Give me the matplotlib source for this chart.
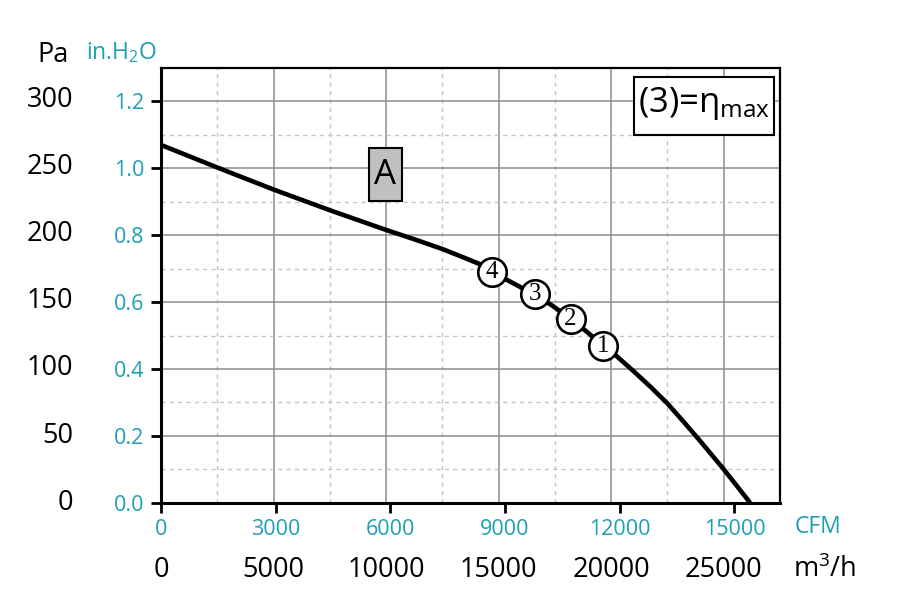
import matplotlib
matplotlib.use('Agg')
import matplotlib.pyplot as plt
from matplotlib.patches import Rectangle
import numpy as np

plt.rcParams['font.family'] = ['Open Sans', 'DejaVu Sans']
plt.rcParams['mathtext.fontset'] = 'custom'
plt.rcParams['mathtext.rm'] = 'Open Sans'
plt.rcParams['mathtext.it'] = 'Open Sans:italic'

# fan curve, flow in m3/h, static pressure in Pa
flow = [0, 2500, 5000, 7500, 10000, 11300, 12500, 13400, 14200, 14700, 15650,
        16600, 17400, 18200, 18950, 19650, 20180, 21000, 21730, 22480,
        23210, 23960, 24980, 26180]
pressure = [266.5, 249.7, 233.3, 217.9, 203.2, 196, 189, 183, 177.5, 172, 163.5,
            155.1, 146.7, 137, 127, 116.9, 110.2, 98, 86.7, 74.4,
            60.6, 46, 25.5, 0]

# operating points
point_flow = [19650, 18200, 16600, 14700]
point_pressure = [116.9, 137, 155.1, 172]
point_labels = ['1', '2', '3', '4']

pa_ticks = [0, 50, 100, 150, 200, 250, 300]
inh2o_ticks = [0.0, 0.2, 0.4, 0.6, 0.8, 1.0, 1.2]
cfm_ticks = [0, 3000, 6000, 9000, 12000, 15000]
m3h_ticks = [0, 5000, 10000, 15000, 20000, 25000]

PA_PER_INH2O = 249.089
M3H_PER_CFM = 1.699
CYAN = '#1f9fb3'

W, H = 898, 604
fig = plt.figure(figsize=(W / 100, H / 100), dpi=100)
ax = fig.add_axes([161 / W, 1 - 502.7 / H, 619 / W, 434.7 / H])

ax.set_xlim(0, 27510)
ax.set_ylim(0, 1.3)

# grid
for v in np.arange(2500, 27500, 2500):
    if v % 5000 == 0:
        ax.axvline(v, color='#8c8c8c', lw=1.1, zorder=1)
    else:
        ax.axvline(v, color='#c4c4c4', lw=1, ls=(0, (3, 3)), zorder=1)
for v in np.arange(0.1, 1.3, 0.1):
    if round(v * 10) % 2 == 0:
        ax.axhline(v, color='#8c8c8c', lw=1.1, zorder=1)
    else:
        ax.axhline(v, color='#c4c4c4', lw=1, ls=(0, (3, 3)), zorder=1)

# curve
y_in = [p / PA_PER_INH2O for p in pressure]
ax.plot(flow, y_in, color='black', lw=3.3, zorder=3, solid_capstyle='butt', solid_joinstyle='round')

for fx, fp, lab in zip(point_flow, point_pressure, point_labels):
    ax.plot(fx, fp / PA_PER_INH2O, 'o', ms=20.5, mfc='white', mec='black', mew=1.9, zorder=4)
    ax.text(fx, fp / PA_PER_INH2O, lab, ha='center', va='center', fontsize=18,
            family='Liberation Serif', zorder=5)

# spines and ticks
for s in ['left', 'bottom']:
    ax.spines[s].set_linewidth(2.2)
for s in ['top', 'right']:
    ax.spines[s].set_linewidth(1.6)

ax.set_yticks(inh2o_ticks)
ax.set_yticklabels([f'{v:.1f}' for v in inh2o_ticks])
ax.set_xticks([c * M3H_PER_CFM for c in cfm_ticks])
ax.set_xticklabels([str(c) for c in cfm_ticks])
ax.tick_params(axis='both', length=7, width=2, direction='out',
               labelsize=15.5, labelcolor=CYAN)
ax.tick_params(axis='y', pad=5)
ax.tick_params(axis='x', pad=5)

# Pa labels
ytr = ax.get_yaxis_transform()
for p in pa_ticks:
    ax.text(-0.142, p / PA_PER_INH2O, str(p), transform=ytr, ha='right', va='center',
            fontsize=19.5, color='black')
# m3/h labels
xtr = ax.get_xaxis_transform()
for m in m3h_ticks:
    ax.text(m, -0.155, str(m), transform=xtr, ha='center', va='center',
            fontsize=19.5, color='black')

# unit labels
fig.text(53 / W, 1 - 55 / H, 'Pa', ha='center', va='center', fontsize=19.5)
fig.text(122 / W, 1 - 53 / H, r'in.H$_2$O', ha='center', va='center', fontsize=16.5, color=CYAN)
fig.text(818 / W, 1 - 527 / H, 'CFM', ha='center', va='center', fontsize=16.5, color=CYAN)
fig.text(825 / W, 1 - 570 / H, r'm$^3$/h', ha='center', va='center', fontsize=19.5)

# annotation boxes
ax.add_patch(Rectangle((0.336, 0.694), 0.053, 0.122, transform=ax.transAxes,
                       fc='#c0c0c0', ec='black', lw=1.5, zorder=5))
ax.text(0.3625, 0.755, 'A', transform=ax.transAxes, ha='center', va='center',
        fontsize=25, zorder=6)
ax.add_patch(Rectangle((0.764, 0.846), 0.226, 0.133, transform=ax.transAxes,
                       fc='white', ec='black', lw=1.5, zorder=5))
ax.text((638 - 161) / 619, (502.7 - 104) / 434.7, r'(3)=$\mathregular{\eta_{max}}$',
        transform=ax.transAxes, ha='left', va='center', fontsize=25, zorder=6)

fig.savefig('out.png', dpi=100)
